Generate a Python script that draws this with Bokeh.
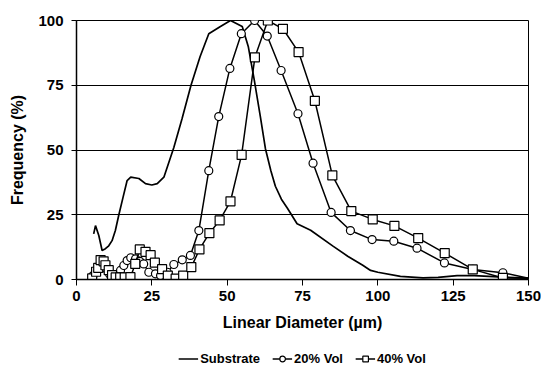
from bokeh.plotting import figure
from bokeh.models import FixedTicker, Legend, LegendItem, Range1d
from bokeh.layouts import column
from bokeh.embed import file_html
from bokeh.resources import INLINE

# ---- data ----
x_ticks = [0, 25, 50, 75, 100, 125, 150]
y_ticks = [0, 25, 50, 75, 100]

sub_x = [5.7, 6.3, 7.4, 8.5, 9.6, 10.7, 11.8, 12.9, 14.0, 15.5, 16.8, 18.0, 20.7, 22.9, 25.0,
         26.8, 29.0, 32.3, 35.0, 38.0, 41.0, 43.9, 47.5, 51.1, 55.0, 57.0, 59.0, 61.0, 62.7,
         64.5, 66.0, 68.0, 70.0, 73.2, 77.7, 85.0, 90.0, 95.0, 97.6, 100.0, 107.5, 115.0,
         120.0, 126.3, 132.0, 140.0, 150.0]
sub_y = [17.6, 20.8, 17.0, 11.2, 11.9, 13.0, 15.0, 18.9, 24.7, 32.0, 38.2, 39.5, 39.0, 37.0, 36.5,
         37.0, 39.5, 51.0, 62.0, 75.0, 86.0, 94.9, 97.5, 100.0, 97.7, 90.0, 77.0, 63.0, 50.5,
         42.0, 36.0, 31.0, 27.5, 21.5, 19.0, 13.0, 9.0, 5.5, 3.5, 2.8, 1.2, 0.6,
         0.8, 1.5, 1.5, 1.0, 0.5]

v20_x = [5.5, 7.0, 8.0, 9.0, 10.0, 11.0, 12.0, 13.5, 14.6, 15.7, 16.8, 18.0, 19.6, 21.0, 22.3,
         24.0, 26.2, 27.9, 30.1, 32.3, 35.1, 37.8, 40.6, 43.9, 47.2, 50.9, 54.7, 59.1, 63.3,
         67.9, 73.5, 78.5, 84.5, 90.9, 98.1, 105.3, 113.0, 122.1, 131.5, 141.5, 150.0]
v20_y = [1.5, 4.0, 6.0, 6.5, 4.0, 2.0, 0.8, 1.5, 3.5, 5.4, 7.3, 8.4, 8.0, 7.0, 6.0,
         2.8, 2.2, 1.5, 2.8, 5.8, 7.6, 9.3, 18.9, 42.0, 62.9, 81.5, 94.9, 100.0, 94.0,
         80.7, 64.0, 44.9, 25.9, 18.9, 15.4, 14.8, 12.1, 6.4, 3.9, 2.6, 0.5]

v40_x = [5.2, 6.5, 7.2, 8.0, 9.0, 9.6, 10.7, 11.8, 13.0, 14.5, 16.0, 17.9, 19.5, 21.0, 22.9,
         24.6, 26.0, 28.4, 30.3, 32.9, 35.4, 38.1, 40.8, 44.1, 47.5, 51.1, 54.8, 59.2, 63.5,
         68.5, 73.7, 79.1, 84.9, 91.2, 98.3, 105.5, 113.4, 122.2, 131.5, 141.5, 150.0]
v40_y = [0.4, 3.0, 4.5, 7.5, 7.0, 5.5, 3.6, 1.7, 0.8, 0.8, 0.8, 0.9, 6.0, 11.6, 10.7,
         9.4, 6.5, 4.0, 1.5, 0.3, 1.5, 4.8, 11.6, 17.9, 22.8, 30.2, 48.1, 85.8, 100.0,
         96.8, 87.8, 69.0, 40.2, 26.4, 23.2, 20.7, 16.0, 10.2, 3.9, 0.6, 0.5]

series_names = ["Substrate", "20% Vol", "40% Vol"]

FONT = "Liberation Sans"

p = figure(width=541, height=343, output_backend="svg", toolbar_location=None,
           x_range=Range1d(0, 150), y_range=Range1d(0, 100),
           min_border_left=76, min_border_right=13, min_border_top=20, min_border_bottom=64,
           background_fill_color="white", border_fill_color="white")

p.outline_line_color = "black"
p.outline_line_width = 1
p.xgrid.visible = False
p.ygrid.grid_line_color = "black"
p.ygrid.grid_line_width = 1
p.ygrid.grid_line_alpha = 1.0

p.xaxis.ticker = FixedTicker(ticks=x_ticks)
p.yaxis.ticker = FixedTicker(ticks=y_ticks)
for ax in (p.xaxis, p.yaxis):
    ax.axis_line_color = "black"
    ax.axis_line_width = 1.5
    ax.major_tick_line_color = "black"
    ax.major_tick_in = 0
    ax.minor_tick_line_color = None
    ax.major_label_text_font = FONT
    ax.major_label_text_font_style = "bold"
    ax.major_label_text_font_size = "15px"
    ax.major_label_text_color = "black"
    ax.axis_label_text_font = FONT
    ax.axis_label_text_font_style = "bold"
    ax.axis_label_text_font_size = "16px"
    ax.axis_label_text_color = "black"

p.xaxis.major_tick_out = 6
p.xaxis.major_label_standoff = 5
p.xaxis.axis_label = "Linear Diameter (µm)"
p.xaxis.axis_label_standoff = 10
p.yaxis.major_tick_out = 5
p.yaxis.major_label_standoff = 8
p.yaxis.axis_label = "Frequency (%)"
p.yaxis.axis_label_standoff = 9


def draw(fig):
    r_sub = fig.line(sub_x, sub_y, line_color="black", line_width=1.7)
    l20 = fig.line(v20_x, v20_y, line_color="black", line_width=1.5)
    s20 = fig.scatter(v20_x[:-1], v20_y[:-1], marker="circle", size=8, fill_color="white",
                      line_color="black", line_width=1.2)
    l40 = fig.line(v40_x, v40_y, line_color="black", line_width=1.5)
    s40 = fig.scatter(v40_x[:-1], v40_y[:-1], marker="square", size=9, fill_color="white",
                      line_color="black", line_width=1.2)
    return [[r_sub], [l20, s20], [l40, s40]]


draw(p)

# legend strip below the chart (its own renderers lie outside its empty ranges)
q = figure(width=541, height=30, output_backend="svg", toolbar_location=None,
           x_range=Range1d(1000, 1001), y_range=Range1d(1000, 1001),
           min_border_left=59, min_border_right=0, min_border_top=0, min_border_bottom=0,
           background_fill_color="white", border_fill_color="white")
q.axis.visible = False
q.grid.visible = False
q.outline_line_color = None
groups = draw(q)

legend = Legend(items=[LegendItem(label=n, renderers=g) for n, g in zip(series_names, groups)],
                orientation="horizontal", location="center",
                border_line_alpha=0, background_fill_alpha=0,
                label_text_font=FONT, label_text_font_style="bold",
                label_text_font_size="13px", label_text_color="black",
                glyph_width=20, glyph_height=14,
                label_standoff=2, spacing=12, padding=2, margin=0)
q.add_layout(legend, "center")

open("out.html", "w").write(file_html(column(p, q), INLINE))
